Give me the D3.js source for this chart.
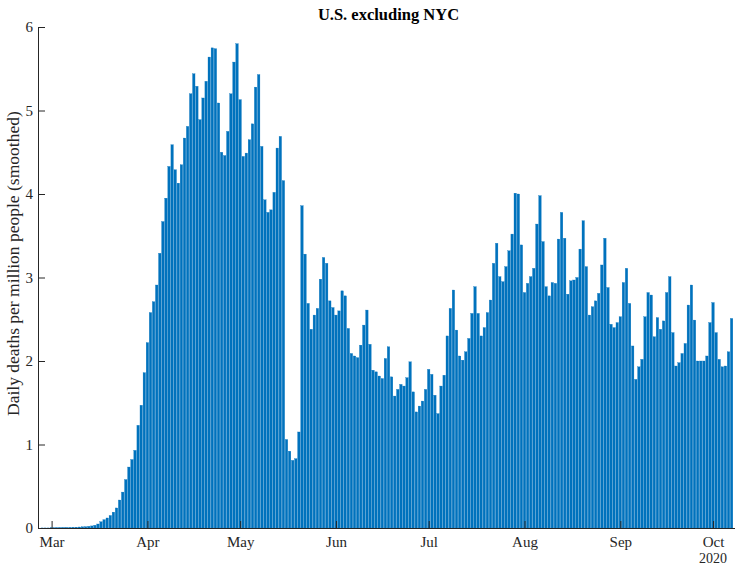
<!DOCTYPE html>
<html><head><meta charset="utf-8">
<script src="https://cdn.jsdelivr.net/npm/d3@7"></script>
<style>body{margin:0;background:#fff}svg{display:block}</style>
</head><body>
<script>
// Data: first bar date and daily values (one per day)
const startDate = "2020-02-27";
const values = [
 0.001,0.001,0.001,
 0.002,0.002,0.003,0.004,0.005,0.006,0.007,0.009,0.010,0.012,0.014,0.016,0.02,0.025,0.033,0.048,0.075,0.10,0.12,0.15,0.19,0.24,0.335,0.43,
 0.58,0.73,0.82,0.93,1.23,1.47,1.86,2.22,2.58,2.71,2.91,3.29,3.67,3.95,4.33,4.59,4.29,4.13,4.35,4.67,4.81,5.20,5.44,5.29,4.89,5.15,5.35,5.64,5.75,5.74,
 5.09,4.50,4.46,4.75,5.20,5.58,5.80,5.13,4.45,4.49,4.65,4.84,5.28,5.43,4.57,3.93,3.78,3.81,4.02,4.55,4.69,4.16,1.06,0.92,0.81,0.83,1.15,
 3.86,3.28,2.69,2.38,2.55,2.63,2.98,3.24,3.17,2.72,2.64,2.55,2.60,2.84,2.78,2.39,2.09,2.06,2.04,2.19,2.43,2.61,2.20,1.89,1.87,
 1.82,1.79,2.03,2.17,1.81,1.58,1.66,1.72,1.70,1.80,1.99,1.63,1.39,1.46,1.52,1.66,1.90,1.84,1.59,1.37,1.70,1.83,2.30,2.63,2.85,2.37,2.06,2.01,2.11,2.27,
 2.57,2.89,2.57,2.30,2.40,2.58,2.73,3.17,3.41,3.01,2.95,3.13,3.32,3.52,4.01,4.00,3.39,2.82,2.93,3.01,3.11,3.64,3.98,3.43,2.89,2.78,2.94,
 2.93,3.46,3.78,3.47,2.80,2.96,2.97,3.00,3.34,3.68,3.13,2.55,2.65,2.72,2.81,3.15,3.47,2.88,2.44,2.40,2.46,2.53,2.94,3.11,2.69,2.18,
 1.78,1.93,2.02,2.53,2.82,2.79,2.29,2.52,2.38,2.48,2.82,3.01,2.34,1.94,1.98,2.09,2.21,2.67,2.91,2.49,2.00,2.00,2.00,2.06,2.46,2.70,2.34,2.02,1.93,1.94,2.11,2.51
];
const monthTicks = ["2020-03-01","2020-04-01","2020-05-01","2020-06-01","2020-07-01","2020-08-01","2020-09-01","2020-10-01"];
const monthLabels = ["Mar","Apr","May","Jun","Jul","Aug","Sep","Oct"];
const yTicks = [0,1,2,3,4,5,6];
const xDomain = ["2020-02-25T14:24:00Z","2020-10-08T02:24:00Z"];
const title = "U.S. excluding NYC";
const yLabel = "Daily deaths per million people (smoothed)";
const yearLabel = "2020";

const W = 735, H = 566;
const L = 38, R = 735, T = 27, B = 528;
const DAY = 86400000;
const start = new Date(startDate + "T00:00:00Z");
const data = values.map((v, i) => ({date: new Date(start.getTime() + i * DAY), v}));

const x = d3.scaleUtc().domain(xDomain.map(d => new Date(d))).range([L, R]);
const y = d3.scaleLinear().domain([0, 6]).range([B, T]);
const dayW = x(new Date(start.getTime() + DAY)) - x(start);
const bw = dayW * 0.8;
const serif = "'Liberation Serif','Times New Roman',serif";

const svg = d3.select("body").append("svg").attr("width", W).attr("height", H)
  .style("font-family", serif);

svg.append("g").selectAll("rect").data(data).join("rect")
  .attr("x", d => x(d.date) - bw / 2)
  .attr("width", bw)
  .attr("y", d => y(d.v))
  .attr("height", d => y(0) - y(d.v))
  .attr("fill", "#0072BD")
  .attr("stroke", "#0072BD").attr("stroke-width", 0.3);

const axCol = "#262626";
const yAxis = svg.append("g").attr("transform", `translate(${L},0)`)
  .call(d3.axisLeft(y).tickValues(yTicks).tickSize(-7).tickPadding(5).tickFormat(d3.format("d")));
const xAxis = svg.append("g").attr("transform", `translate(0,${B})`)
  .call(d3.axisBottom(x).tickValues(monthTicks.map(d => new Date(d + "T00:00:00Z"))).tickSize(-7).tickPadding(8)
    .tickFormat((d, i) => monthLabels[i]));
[yAxis, xAxis].forEach(g => {
  g.select(".domain").attr("stroke", axCol).attr("stroke-width", 1);
  g.selectAll(".tick line").attr("stroke", axCol).attr("stroke-width", 1);
  g.selectAll("text").attr("fill", axCol).style("font-size", "15px").style("font-family", serif);
});

svg.append("text").attr("x", x(new Date(monthTicks[7] + "T00:00:00Z"))).attr("y", 562.8)
  .attr("text-anchor", "middle").attr("fill", axCol).style("font-size", "14px").text(yearLabel);

svg.append("text").attr("x", (L + R) / 2 + 2).attr("y", 20).attr("text-anchor", "middle")
  .attr("fill", "#000").style("font-size", "16.5px").style("font-weight", "bold").text(title);

svg.append("text").attr("transform", `translate(19,416) rotate(-90)`)
  .attr("text-anchor", "start").attr("fill", axCol).style("font-size", "17.5px").text(yLabel);
</script>
</body></html>
